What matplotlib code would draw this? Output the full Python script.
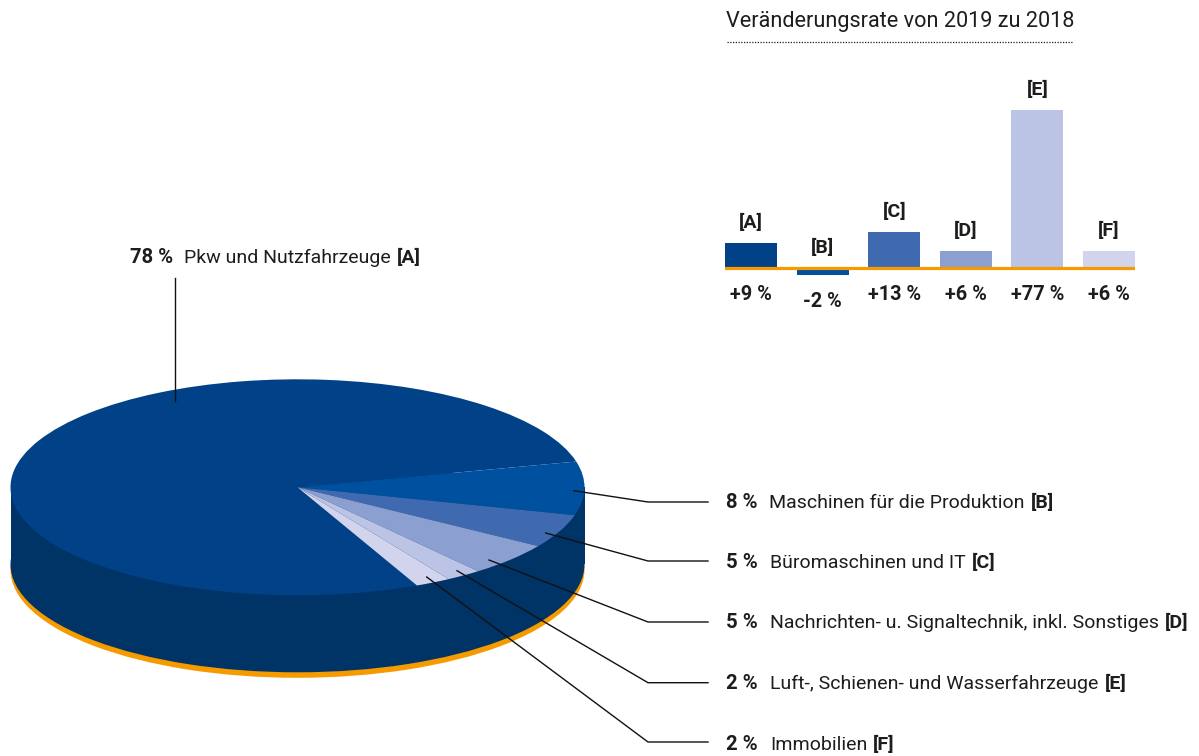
import matplotlib
matplotlib.use("Agg")
import matplotlib.pyplot as plt
from matplotlib.patches import Rectangle

W, H = 1199, 756
FONT = "Roboto"
INK = "#1d1d1b"
plt.rcParams["font.family"] = FONT

# Pie data
shares = [78, 8, 5, 5, 2, 2]
pie_colors = ["#004188", "#0050A0", "#406AB0", "#8C9FD1", "#BCC4E5", "#D2D4EE"]
side_color = "#003366"
orange = "#F59B00"

# Pie labels
pct_labels = ["78 %", "8 %", "5 %", "5 %", "2 %", "2 %"]
names = ["Pkw und Nutzfahrzeuge", "Maschinen für die Produktion", "Büromaschinen und IT",
         "Nachrichten- u. Signaltechnik, inkl. Sonstiges",
         "Luft-, Schienen- und Wasserfahrzeuge", "Immobilien"]
tags = ["[A]", "[B]", "[C]", "[D]", "[E]", "[F]"]

# Bar data: printed rate, and drawn height (the [E] bar is drawn shorter than its label in the original)
rate_labels = ["+9 %", "-2 %", "+13 %", "+6 %", "+77 %", "+6 %"]
bar_heights = [9, -2.5, 13, 6, 57, 6]
bar_title = "Veränderungsrate von 2019 zu 2018"

fig = plt.figure(figsize=(W / 100, H / 100), dpi=100)


def px_axes(x0, y0, x1, y1):
    return fig.add_axes([x0 / W, 1 - y1 / H, (x1 - x0) / W, (y1 - y0) / H])


# ---- 3D-look pie
cx, rx, cy, ry = 297.5, 287.0, 487.3, 108.0
depth, rim = 77.0, 82.5
pie_ax = px_axes(cx - rx, cy - ry, cx + rx, cy + rim + ry)
d, r = depth / ry, rim / ry
pie_ax.pie([1], colors=[orange], center=(0, -r), wedgeprops={"linewidth": 0})
pie_ax.pie([1], colors=[side_color], center=(0, -d), wedgeprops={"linewidth": 0})
pie_ax.add_patch(Rectangle((-1, -d), 2, d, fc=side_color, lw=0))
pie_ax.pie(shares, colors=pie_colors, startangle=-65.4, counterclock=False,
           wedgeprops={"linewidth": 0})
pie_ax.set_aspect("auto")
pie_ax.set_xlim(-1, 1)
pie_ax.set_ylim(-1 - r, 1)
pie_ax.axis("off")

# ---- Bars
bx0, bx1, pitch, base = 725.0, 1135.0, 71.6, 268.0
scale = 2.77
by0, by1 = 100.0, 285.0
bar_ax = px_axes(bx0, by0, bx1, by1)
xs = list(range(len(bar_heights)))
bar_ax.bar(xs, bar_heights, width=52 / pitch, color=pie_colors, linewidth=0)
bar_ax.axhline(0, color=orange, lw=2.3, zorder=3)
bar_ax.set_xlim(-26 / pitch, 5 + 26 / pitch)
bar_ax.set_ylim(-(by1 - base) / scale, (base - by0) / scale)
bar_ax.axis("off")
for x, h, tag, rate in zip(xs, bar_heights, tags, rate_labels):
    bar_ax.annotate(tag, (x, max(h, 0)), xytext=(0, 20.5 * .72), textcoords="offset points",
                    ha="center", va="center", fontsize=14, fontweight="bold", color=INK,
                    annotation_clip=False)
    bar_ax.annotate(rate, (x, min(h, 0)), xytext=(0, -26.5 * .72), textcoords="offset points",
                    ha="center", va="center", fontsize=14.3, fontweight="bold", color=INK,
                    annotation_clip=False)

# ---- Overlay in pixel coordinates: text, leaders, dotted rule
ov = fig.add_axes([0, 0, 1, 1])
ov.set_xlim(0, W)
ov.set_ylim(H, 0)
ov.axis("off")
ov.patch.set_alpha(0)

ov.text(726, 27, bar_title, fontsize=15.6, color=INK, va="baseline", ha="left")
ov.plot([727, 1073], [42, 42], color=INK, lw=0.9, ls=(0, (1, 1.2)))

leaders = [
    [(175, 278), (175, 401)],
    [(573.7, 490.7), (648, 502), (708, 502)],
    [(545.7, 533), (648, 561), (708, 561)],
    [(489, 560), (648, 622), (708, 622)],
    [(457, 570.7), (648, 682.7), (708, 682.7)],
    [(426.7, 577), (648, 742), (708, 742)],
]
for pts in leaders:
    ov.plot([p[0] for p in pts], [p[1] for p in pts], color="#111111", lw=1.0,
            solid_joinstyle="miter")

rows = [(130, 184, 263), (726, 769, 508), (726, 770, 568), (726, 770, 628), (726, 770, 689), (726, 770, 750)]
fig.canvas.draw()
rend = fig.canvas.get_renderer()
for (xp, xn, yb), p, n, t in zip(rows, pct_labels, names, tags):
    ov.text(xp, yb, p, fontsize=14.6, fontweight="bold", color=INK, va="baseline")
    tx = ov.text(xn, yb, n, fontsize=14, color=INK, va="baseline")
    end = tx.get_window_extent(rend).x1
    ov.text(end + 6, yb, t, fontsize=14, fontweight="bold", color=INK, va="baseline")

fig.savefig("out.png", dpi=100, facecolor="white")
